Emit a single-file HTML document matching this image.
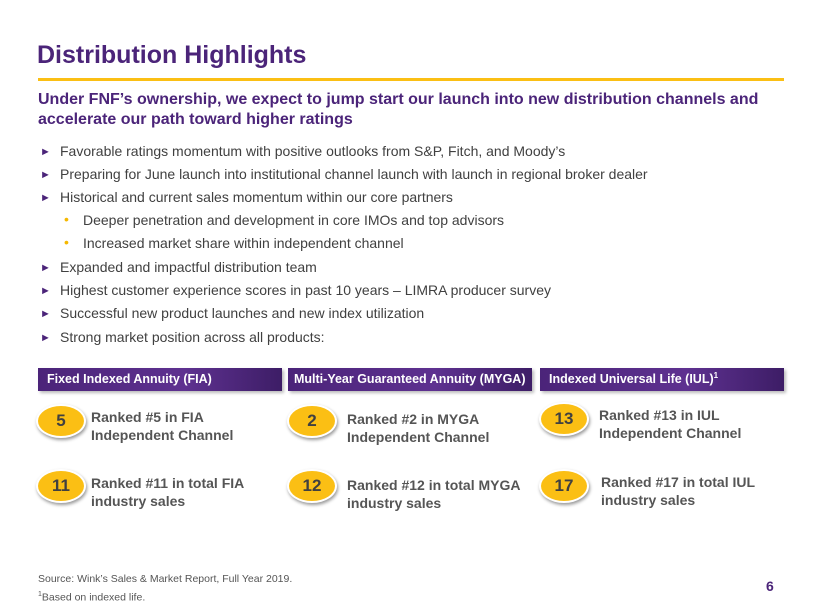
<!DOCTYPE html>
<html><head><meta charset="utf-8"><style>
body{margin:0;width:820px;height:615px;background:#fff;font-family:"Liberation Sans",Arial,sans-serif;position:relative;overflow:hidden}
.a{position:absolute;white-space:nowrap}
.b{font-size:14px;color:#404040}
.arr{color:#4b2479;font-size:11px}
.dot{color:#f5b800;font-size:14px}
.hd{position:absolute;top:368px;height:23px;background:linear-gradient(90deg,#4b2479,#5e3190 60%,#3d1d66);color:#fff;font-weight:bold;font-size:12.5px;line-height:23px;padding-left:9px;box-sizing:border-box;box-shadow:2px 2px 3px #bbb;white-space:nowrap;overflow:hidden}
.ov{position:absolute;width:46px;height:30px;border-radius:50%;background:#fbbf14;color:#404040;font-weight:bold;font-size:17px;text-align:center;line-height:30px;box-shadow:1px 2px 3px #999;border:2px solid #fff}
.rt{position:absolute;font-weight:bold;font-size:14px;color:#555;line-height:18px;white-space:nowrap}
</style></head><body>
<div class="a" style="left:37px;top:41px;font-size:25px;font-weight:bold;color:#4b2479">Distribution Highlights</div>
<div class="a" style="left:38px;top:78px;width:746px;height:3px;background:#fbbf14"></div>
<div class="a" style="left:38px;top:90px;font-size:16px;font-weight:bold;color:#4b2479;line-height:20px">Under FNF’s ownership, we expect to jump start our launch into new distribution channels and<br>accelerate our path toward higher ratings</div>
<div>
<div class="a arr" style="left:40px;top:146px">►</div><div class="a b" style="left:60px;top:143px">Favorable ratings momentum with positive outlooks from S&amp;P, Fitch, and Moody’s</div>
<div class="a arr" style="left:40px;top:169px">►</div><div class="a b" style="left:60px;top:166px">Preparing for June launch into institutional channel launch with launch in regional broker dealer</div>
<div class="a arr" style="left:40px;top:192px">►</div><div class="a b" style="left:60px;top:189px">Historical and current sales momentum within our core partners</div>
<div class="a dot" style="left:64px;top:211px">•</div><div class="a b" style="left:83px;top:212px">Deeper penetration and development in core IMOs and top advisors</div>
<div class="a dot" style="left:64px;top:234px">•</div><div class="a b" style="left:83px;top:235px">Increased market share within independent channel</div>
<div class="a arr" style="left:40px;top:262px">►</div><div class="a b" style="left:60px;top:259px">Expanded and impactful distribution team</div>
<div class="a arr" style="left:40px;top:285px">►</div><div class="a b" style="left:60px;top:282px">Highest customer experience scores in past 10 years – LIMRA producer survey</div>
<div class="a arr" style="left:40px;top:308px">►</div><div class="a b" style="left:60px;top:305px">Successful new product launches and new index utilization</div>
<div class="a arr" style="left:40px;top:332px">►</div><div class="a b" style="left:60px;top:329px">Strong market position across all products:</div>
</div>
<div class="hd" style="left:38px;width:244px">Fixed Indexed Annuity (FIA)</div>
<div class="hd" style="left:288px;width:244px;padding-left:6px">Multi-Year Guaranteed Annuity (MYGA)</div>
<div class="hd" style="left:540px;width:244px">Indexed Universal Life (IUL)<sup style="font-size:8px;line-height:0">1</sup></div>
<div class="ov" style="left:36px;top:404px">5</div>
<div class="rt" style="left:91px;top:408px">Ranked #5 in FIA<br>Independent Channel</div>
<div class="ov" style="left:36px;top:469px">11</div>
<div class="rt" style="left:91px;top:474px">Ranked #11 in total FIA<br>industry sales</div>
<div class="ov" style="left:287px;top:404px">2</div>
<div class="rt" style="left:347px;top:410px">Ranked #2 in MYGA<br>Independent Channel</div>
<div class="ov" style="left:287px;top:469px">12</div>
<div class="rt" style="left:347px;top:476px">Ranked #12 in total MYGA<br>industry sales</div>
<div class="ov" style="left:539px;top:402px">13</div>
<div class="rt" style="left:599px;top:406px">Ranked #13 in IUL<br>Independent Channel</div>
<div class="ov" style="left:539px;top:469px">17</div>
<div class="rt" style="left:601px;top:473px">Ranked #17 in total IUL<br>industry sales</div>
<div class="a" style="left:38px;top:572px;font-size:10.5px;color:#555;line-height:15px">Source: Wink’s Sales &amp; Market Report, Full Year 2019.<br><sup style="font-size:7px">1</sup>Based on indexed life.</div>
<div class="a" style="left:766px;top:578px;font-size:14px;font-weight:bold;color:#4b2479">6</div>
</body></html>
